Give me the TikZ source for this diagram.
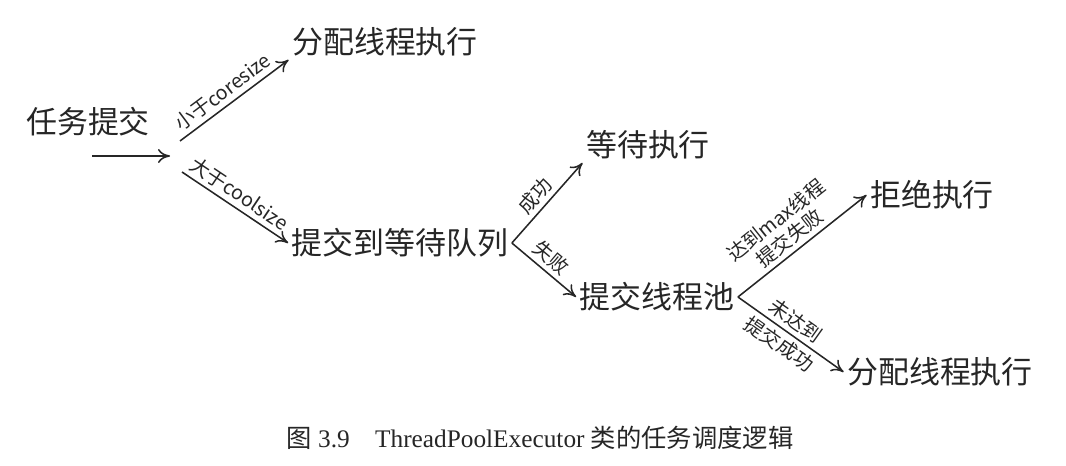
\documentclass[tikz,border=0pt]{standalone}
\usepackage{fontspec}
\setmainfont{Liberation Serif}
\newfontfamily\cjk{Noto Sans CJK SC}
\usetikzlibrary{arrows.meta}

\begin{document}
\begin{tikzpicture}[x=0.025cm, y=-0.025cm, >={To[length=3mm, width=3.5mm]}, line width=1.1pt, color=black!85,
	st/.style={inner sep=2pt, font=\cjk\fontsize{22}{26}\selectfont},
	lb/.style={inner sep=3pt, sloped, pos=0.47, font=\cjk\fontsize{14}{16}\selectfont, align=center}]
	\useasboundingbox (0,0) rectangle (1066,466);
	\node[st] (task) at (88,122) {任务提交};
	\node[st] (alloc1) at (385,42) {分配线程执行};
	\node[st] (queue) at (400,243) {提交到等待队列};
	\node[st] (wait) at (648,145) {等待执行};
	\node[st] (pool) at (657,297) {提交线程池};
	\node[st] (reject) at (932,195) {拒绝执行};
	\node[st] (alloc2) at (940,372) {分配线程执行};
	\coordinate (s0) at (92,156);
	\coordinate (s1) at (170,156);
	\coordinate (up0) at (180,141);
	\coordinate (dn0) at (182,172);
	\draw[->] (s0) -- (s1);
	\draw[->] (up0) -- node[lb, above] {小于coresize} (alloc1.south west);
	\draw[->] (dn0) -- node[lb, above] {大于coolsize} (queue.west);
	\draw[->] (queue.east) -- node[lb, above] {成功} (wait.south west);
	\draw[->] (queue.east) -- node[lb, above] {失败} (pool.west);
	\draw[->] (pool.east) -- node[lb, above] {达到max线程\\提交失败} (reject.west);
	\draw[->] (pool.east) -- node[lb, above] {未达到} node[lb, below] {提交成功} (alloc2.west);
	\node[font=\fontsize{18}{21}\selectfont] (cap) at (540,438) {{\cjk 图} 3.9\quad ThreadPoolExecutor {\cjk 类的任务调度逻辑}};
\end{tikzpicture}
\end{document}
